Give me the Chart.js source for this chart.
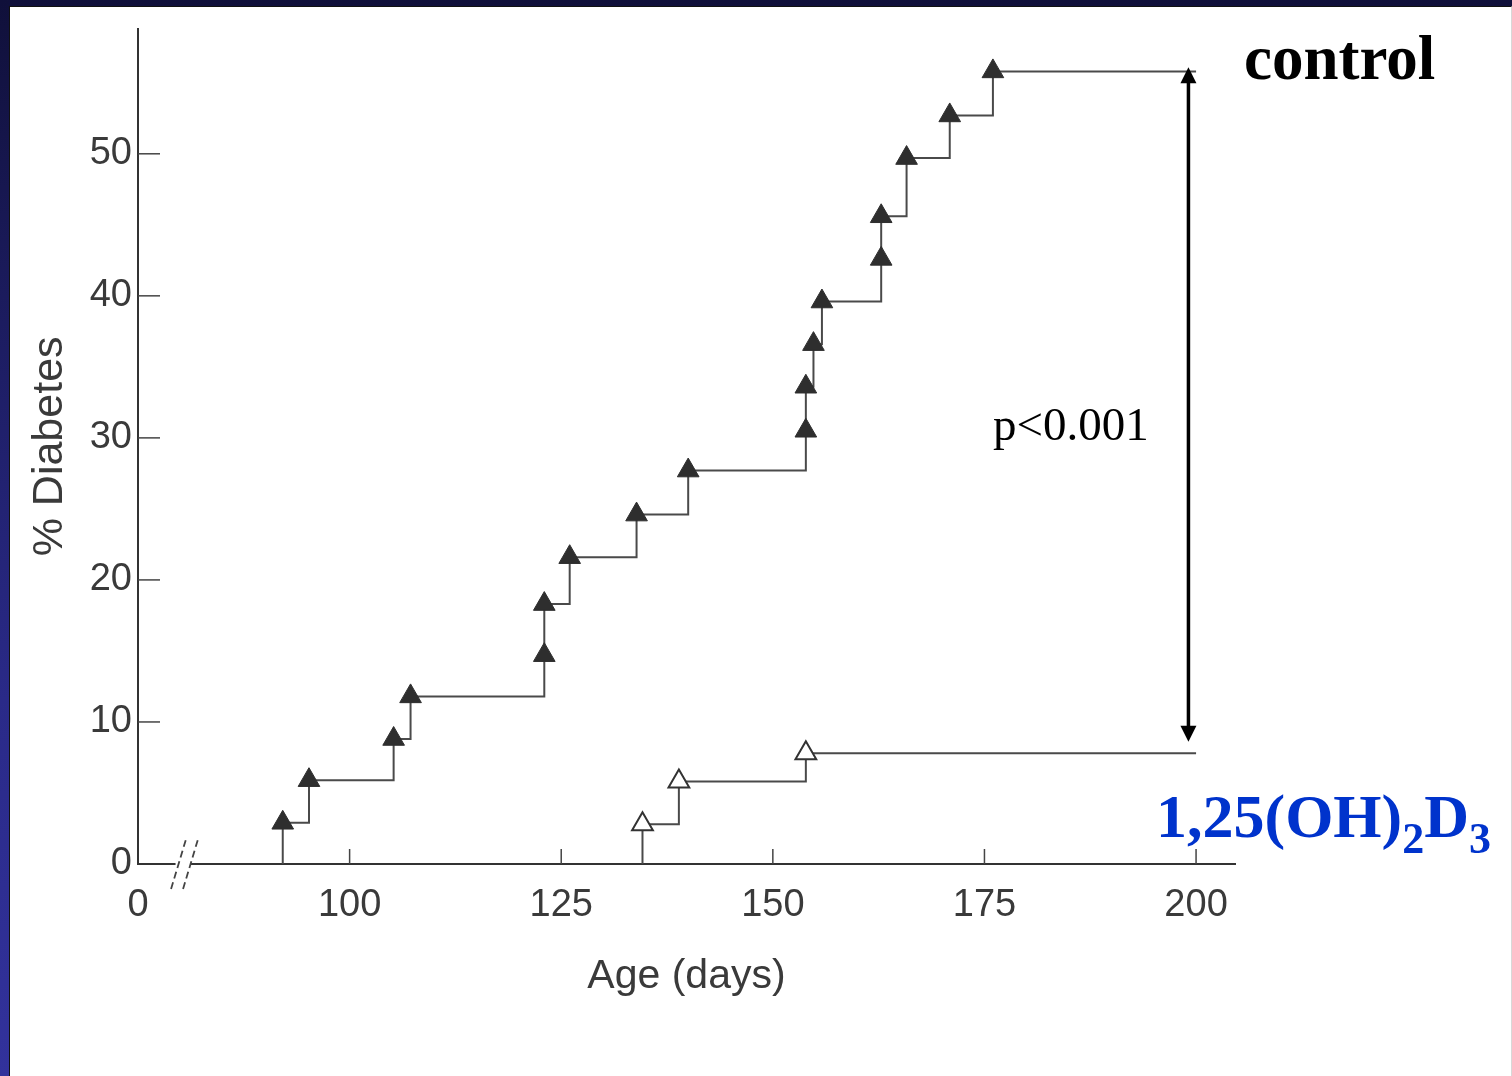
<!DOCTYPE html>
<html><head><meta charset="utf-8">
<script src="https://cdn.jsdelivr.net/npm/chart.js@4.4.1/dist/chart.umd.min.js"></script>
<style>
html,body{margin:0;padding:0;width:1512px;height:1076px;overflow:hidden;}
body{position:relative;background:linear-gradient(to bottom,#10103a 0%,#1c1c60 30%,#2a2a88 65%,#32329c 100%);}
#panel{position:absolute;left:9px;top:6px;width:1503px;height:1070px;background:#fff;box-sizing:border-box;border-left:1px solid #111;border-top:1px solid #111;border-right:1px solid #d8d8d8;}
#c{position:absolute;left:0;top:0;}
.lbl{position:absolute;white-space:nowrap;font-family:"Liberation Serif","Times New Roman",serif;line-height:1;}
</style></head>
<body>
<div id="panel"></div>
<canvas id="c" width="1512" height="1076"></canvas>
<div class="lbl" style="left:1244px;top:27px;font-size:63px;font-weight:bold;color:#000;">control</div>
<div class="lbl" style="left:993px;top:401px;font-size:47px;color:#000;">p&lt;0.001</div>
<div class="lbl" style="left:1156px;top:785px;font-size:62px;font-weight:bold;color:#0033cc;">1,25(OH)<span style="font-size:44px;position:relative;top:16px;">2</span>D<span style="font-size:44px;position:relative;top:16px;">3</span></div>
<script>
// ---- data ----
const controlDays = [92.1, 95.2, 105.2, 107.2, 123.0, 123.0, 126.0, 133.9, 140.0, 153.9, 153.9, 154.8, 155.8, 162.8, 162.8, 165.8, 170.9, 176.0];
const controlPct  = [2.9, 5.9, 8.8, 11.8, 14.7, 18.3, 21.6, 24.6, 27.7, 30.5, 33.6, 36.6, 39.6, 42.6, 45.6, 49.7, 52.7, 55.8];
const treatedDays = [134.6, 138.9, 153.9];
const treatedPct  = [2.8, 5.8, 7.8];
const followUpEnd = 200;
const xTickValues = [75, 100, 125, 150, 175, 200];
const xTickLabels = ['0', '100', '125', '150', '175', '200'];
const yTickValues = [0, 10, 20, 30, 40, 50];
// annotation (double arrow) anchors in data units
const arrowDay = 199.1, arrowTopPct = 56.1, arrowBottomPct = 8.6;
const breakDay = 80.5;

function stepSeries(days, pct) {
  const pts = [{x: days[0], y: 0}];
  days.forEach((d, i) => pts.push({x: d, y: pct[i]}));
  pts.push({x: followUpEnd, y: pct[pct.length - 1]});
  return pts;
}
function markers(days, pct) { return days.map((d, i) => ({x: d, y: pct[i]})); }

const ink = '#3a3a3a';
const sans = '"Liberation Sans", Arial, Helvetica, sans-serif';

const decor = {
  id: 'decor',
  afterDraw(chart) {
    const {ctx, scales: {x, y}} = chart;
    const x0 = x.left, y0 = y.bottom;
    ctx.save();
    ctx.strokeStyle = '#444'; ctx.lineWidth = 1.5;
    // inward y ticks
    yTickValues.filter(v => v > 0).forEach(v => {
      const py = y.getPixelForValue(v);
      ctx.beginPath(); ctx.moveTo(x0, py); ctx.lineTo(x0 + 22, py); ctx.stroke();
    });
    // inward x ticks
    xTickValues.filter(v => v > xTickValues[0]).forEach(v => {
      const px = x.getPixelForValue(v);
      ctx.beginPath(); ctx.moveTo(px, y0); ctx.lineTo(px, y0 - 15); ctx.stroke();
    });
    // axis break
    const bx = x.getPixelForValue(breakDay);
    ctx.fillStyle = '#fff';
    ctx.fillRect(bx - 9, y0 - 3, 15, 6);
    ctx.setLineDash([7, 4]);
    ctx.lineWidth = 1.8;
    [-6, 6].forEach(off => {
      const cx = bx + off;
      ctx.beginPath(); ctx.moveTo(cx - 7.5, y0 + 25); ctx.lineTo(cx + 7.5, y0 - 25); ctx.stroke();
    });
    ctx.setLineDash([]);
    // double arrow
    const ax = x.getPixelForValue(arrowDay);
    const aTop = y.getPixelForValue(arrowTopPct);
    const aBot = y.getPixelForValue(arrowBottomPct);
    ctx.strokeStyle = '#000'; ctx.fillStyle = '#000'; ctx.lineWidth = 3.5;
    ctx.beginPath(); ctx.moveTo(ax, aTop + 12); ctx.lineTo(ax, aBot - 12); ctx.stroke();
    ctx.beginPath(); ctx.moveTo(ax, aTop); ctx.lineTo(ax - 8, aTop + 16); ctx.lineTo(ax + 8, aTop + 16); ctx.closePath(); ctx.fill();
    ctx.beginPath(); ctx.moveTo(ax, aBot); ctx.lineTo(ax - 8, aBot - 16); ctx.lineTo(ax + 8, aBot - 16); ctx.closePath(); ctx.fill();
    ctx.restore();
  }
};

new Chart(document.getElementById('c'), {
  type: 'scatter',
  data: {
    datasets: [
      {label: 'control', type: 'line', data: stepSeries(controlDays, controlPct), stepped: true,
       borderColor: '#4a4a4a', borderWidth: 2, pointRadius: 0, fill: false, order: 3},
      {label: '1,25(OH)2D3', type: 'line', data: stepSeries(treatedDays, treatedPct), stepped: true,
       borderColor: '#4a4a4a', borderWidth: 2, pointRadius: 0, fill: false, order: 3},
      {label: 'control events', data: markers(controlDays, controlPct), pointStyle: 'triangle',
       pointRadius: 12.5, backgroundColor: '#2e2e2e', borderColor: '#2e2e2e', borderWidth: 1, showLine: false, order: 1},
      {label: 'treated events', data: markers(treatedDays, treatedPct), pointStyle: 'triangle',
       pointRadius: 12, backgroundColor: '#ffffff', borderColor: '#333', borderWidth: 2, showLine: false, order: 1}
    ]
  },
  options: {
    responsive: false, animation: false, devicePixelRatio: 1,
    layout: {padding: {left: 0, top: 27, right: 277, bottom: 0}},
    plugins: {legend: {display: false}, tooltip: {enabled: false}},
    scales: {
      x: {
        type: 'linear', min: 75, max: 204.6,
        grid: {display: false, drawTicks: false},
        border: {display: true, color: '#333', width: 2},
        afterBuildTicks: s => { s.ticks = xTickValues.map(v => ({value: v})); },
        afterFit: s => { s.height = 212; },
        ticks: {autoSkip: false, maxRotation: 0, padding: 19, color: ink,
                font: {family: sans, size: 38},
                callback: v => xTickLabels[xTickValues.indexOf(v)]},
        title: {display: true, text: 'Age (days)', color: ink, font: {family: sans, size: 41},
                padding: {top: 0, bottom: 75}}
      },
      y: {
        min: 0, max: 58.8,
        grid: {display: false, drawTicks: false},
        border: {display: true, color: '#333', width: 2},
        afterBuildTicks: s => { s.ticks = yTickValues.map(v => ({value: v})); },
        afterFit: s => { s.width = 138; },
        ticks: {padding: 6, color: ink, font: {family: sans, size: 38}},
        title: {display: true, text: '% Diabetes', color: ink, font: {family: sans, size: 43},
                padding: {top: 24, bottom: 0}}
      }
    }
  },
  plugins: [decor]
});
</script>
</body></html>
